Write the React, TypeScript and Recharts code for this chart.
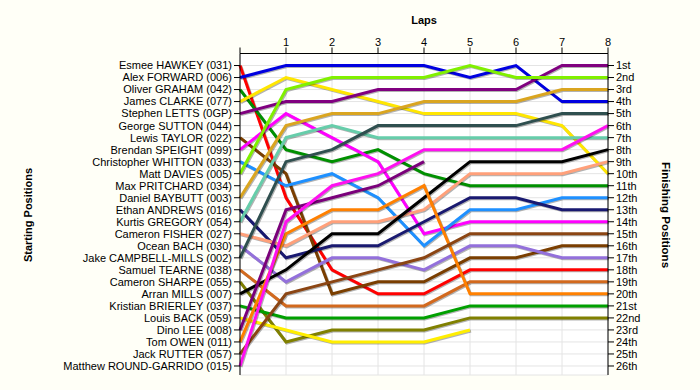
import { LineChart, Line, XAxis, YAxis, CartesianGrid } from "recharts";

const LAPS = [0, 1, 2, 3, 4, 5, 6, 7, 8];
const POSITION_TICKS = Array.from({ length: 26 }, (_, i) => i + 1);

const STARTERS = [
  "Esmee HAWKEY (031)",
  "Alex FORWARD (006)",
  "Oliver GRAHAM (042)",
  "James CLARKE (077)",
  "Stephen LETTS (0GP)",
  "George SUTTON (044)",
  "Lewis TAYLOR (022)",
  "Brendan SPEIGHT (099)",
  "Christopher WHITTON (033)",
  "Matt DAVIES (005)",
  "Max PRITCHARD (034)",
  "Daniel BAYBUTT (003)",
  "Ethan ANDREWS (016)",
  "Kurtis GREGORY (054)",
  "Cameron FISHER (027)",
  "Ocean BACH (030)",
  "Jake CAMPBELL-MILLS (002)",
  "Samuel TEARNE (038)",
  "Cameron SHARPE (055)",
  "Arran MILLS (007)",
  "Kristian BRIERLEY (037)",
  "Louis BACK (059)",
  "Dino LEE (008)",
  "Tom OWEN (011)",
  "Jack RUTTER (057)",
  "Matthew ROUND-GARRIDO (015)",
];

const FINISHERS = [
  "1st", "2nd", "3rd", "4th", "5th", "6th", "7th", "8th", "9th", "10th",
  "11th", "12th", "13th", "14th", "15th", "16th", "17th", "18th", "19th", "20th",
  "21st", "22nd", "23rd", "24th", "25th", "26th",
];

// position at each lap, lap 0 = grid slot
const esmee = [1, 12, 18, 20, 20, 18, 18, 18, 18];
const alex = [2, 1, 1, 1, 1, 2, 1, 4, 4];
const oliver = [3, 8, 9, 8, 10, 11, 11, 11, 11];
const james = [4, 2, 3, 4, 5, 5, 5, 6, 10];
const stephen = [5, 4, 4, 3, 3, 3, 3, 1, 1];
const lewis = [7, 10, 20, 19, 19, 17, 17, 16, 16];
const brendan = [8, 5, 7, 9, 15, 14, 14, 14, 14];
const christopher = [9, 11, 10, 12, 16, 13, 13, 12, 12];
const matt = [10, 3, 2, 2, 2, 1, 2, 2, 2];
const daniel = [12, 6, 5, 5, 4, 4, 4, 3, 3];
const ethan = [13, 17, 16, 16, 14, 12, 12, 13, 13];
const kurtis = [14, 7, 6, 7, 7, 7, 7, 7, 7];
const cameronF = [15, 16, 14, 14, 13, 10, 10, 10, 9];
const ocean = [16, 19, 17, 17, 18, 16, 16, 17, 17];
const jake = [17, 9, 8, 6, 6, 6, 6, 5, 5];
const samuel = [18, 21, 21, 21, 21, 19, 19, 19, 19];
const cameronS = [19, 24, 23, 23, 23, 22, 22, 22, 22];
const arran = [20, 18, 15, 15, 12, 9, 9, 9, 8];
const kristian = [21, 22, 22, 22, 22, 21, 21, 21, 21];
const louis = [22, 23, 24, 24, 24, 23];
const dino = [23, 13, 12, 11, 9];
const tom = [24, 15, 13, 13, 11, 20, 20, 20, 20];
const jack = [25, 20, 19, 18, 17, 15, 15, 15, 15];
const matthew = [26, 14, 11, 10, 8, 8, 8, 8, 6];

const SERIES = [
  { key: "esmee", laps: esmee, color: "#FF0000" },
  { key: "alex", laps: alex, color: "#0000E0" },
  { key: "oliver", laps: oliver, color: "#009000" },
  { key: "james", laps: james, color: "#FFE600" },
  { key: "stephen", laps: stephen, color: "#800080" },
  { key: "lewis", laps: lewis, color: "#7A3E00" },
  { key: "brendan", laps: brendan, color: "#FF00FF" },
  { key: "christopher", laps: christopher, color: "#1E90FF" },
  { key: "matt", laps: matt, color: "#80F000" },
  { key: "daniel", laps: daniel, color: "#DAA520" },
  { key: "ethan", laps: ethan, color: "#191970" },
  { key: "kurtis", laps: kurtis, color: "#66CDAA" },
  { key: "cameronF", laps: cameronF, color: "#FFA07A" },
  { key: "ocean", laps: ocean, color: "#9370DB" },
  { key: "jake", laps: jake, color: "#2F4F4F" },
  { key: "samuel", laps: samuel, color: "#D2691E" },
  { key: "cameronS", laps: cameronS, color: "#808000" },
  { key: "arran", laps: arran, color: "#000000" },
  { key: "kristian", laps: kristian, color: "#00A000" },
  { key: "louis", laps: louis, color: "#FFEE00" },
  { key: "dino", laps: dino, color: "#7A007A" },
  { key: "tom", laps: tom, color: "#FF8000" },
  { key: "jack", laps: jack, color: "#8B4513" },
  { key: "matthew", laps: matthew, color: "#FF10F0" },
];

const data = LAPS.map((lap, i) => {
  const row: Record<string, number> = { lap };
  SERIES.forEach((s) => {
    if (s.laps[i] !== undefined) row[s.key] = s.laps[i];
  });
  return row;
});

const tickStyle = { fontSize: 11, fill: "#000000", fontFamily: "Liberation Sans, Arial, sans-serif" };
const titleStyle: React.CSSProperties = {
  position: "absolute",
  fontFamily: "Liberation Sans, Arial, sans-serif",
  fontWeight: "bold",
  fontSize: 11,
  color: "#000",
  whiteSpace: "nowrap",
};

export default function App() {
  return (
    <div style={{ position: "absolute", left: 0, top: 0, width: 700, height: 390, background: "#FFFFF7" }}>
      {/* the original lines carry a faint grey shadow */}
      <style>{`.recharts-line-curve { filter: drop-shadow(1px 1px 0 rgba(0,0,0,0.3)); }`}</style>
      <LineChart width={700} height={390} data={data} margin={{ top: 0, right: 0, bottom: 15, left: 0 }}>
        <CartesianGrid yAxisId="left" stroke="#E4E4E4" fill="#FFFFFF" />
        <XAxis
          dataKey="lap"
          type="number"
          orientation="top"
          height={53.5}
          domain={[0, 8]}
          ticks={LAPS}
          interval={0}
          tickFormatter={(v) => (v === 0 ? "" : String(v))}
          tick={tickStyle}
          tickSize={6}
          tickMargin={2}
          axisLine={{ stroke: "#000" }}
          tickLine={{ stroke: "#000" }}
        />
        <YAxis
          yAxisId="left"
          orientation="left"
          width={240}
          type="number"
          domain={[0, 26.75]}
          reversed
          allowDataOverflow
          ticks={POSITION_TICKS}
          interval={0}
          tickFormatter={(v) => STARTERS[v - 1] ?? ""}
          tick={tickStyle}
          tickSize={6}
          tickMargin={2}
          axisLine={{ stroke: "#000" }}
          tickLine={{ stroke: "#000" }}
        />
        <YAxis
          yAxisId="right"
          orientation="right"
          width={92}
          type="number"
          domain={[0, 26.75]}
          reversed
          allowDataOverflow
          ticks={POSITION_TICKS}
          interval={0}
          tickFormatter={(v) => FINISHERS[v - 1] ?? ""}
          tick={tickStyle}
          tickSize={6}
          tickMargin={2}
          axisLine={{ stroke: "#000" }}
          tickLine={{ stroke: "#000" }}
        />
        {SERIES.map((s) => (
          <Line
            key={s.key}
            yAxisId="left"
            type="linear"
            dataKey={s.key}
            stroke={s.color}
            strokeWidth={3}
            dot={false}
            activeDot={false}
            isAnimationActive={false}
          />
        ))}
      </LineChart>
      <div style={{ ...titleStyle, left: 424, top: 20, transform: "translate(-50%, -50%)" }}>Laps</div>
      <div style={{ ...titleStyle, left: 28, top: 215, transform: "translate(-50%, -50%) rotate(-90deg)" }}>
        Starting Positions
      </div>
      <div style={{ ...titleStyle, left: 666, top: 215, fontSize: 11.5, transform: "translate(-50%, -50%) rotate(90deg)" }}>
        Finishing Positions
      </div>
    </div>
  );
}
